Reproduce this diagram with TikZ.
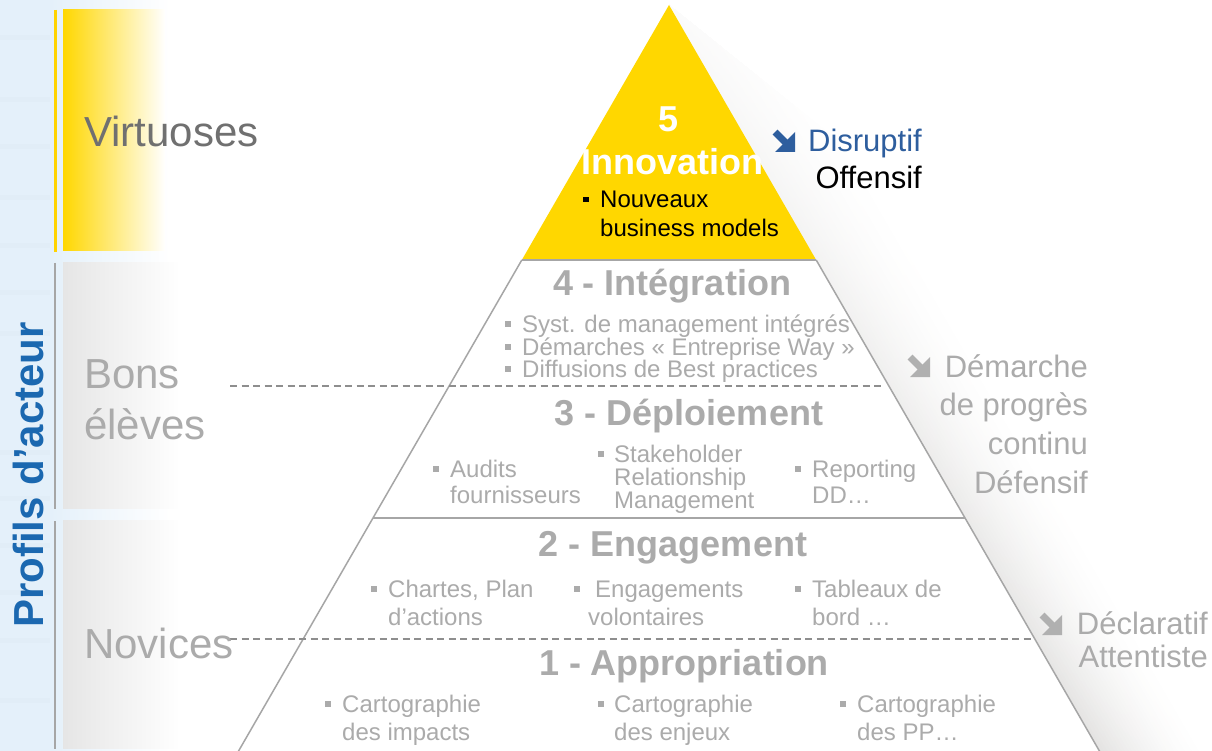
\documentclass[tikz,border=0pt]{standalone}
\usepackage{fontspec}
\setmainfont{Liberation Sans}
\definecolor{pyyellow}{HTML}{FFD700}
\definecolor{tgray}{HTML}{ABABAB}
\definecolor{lgray}{HTML}{A6A6A6}
\definecolor{dgray}{HTML}{8E8E8E}
\definecolor{vgray}{HTML}{707070}
\definecolor{dblue}{HTML}{2E5E9E}
\definecolor{pblue}{HTML}{1B68B0}
\definecolor{bgblue}{HTML}{E4F0FA}
\definecolor{agray}{HTML}{B0B0B0}
\definecolor{shcol}{HTML}{5A554E}
\newcommand{\fsz}[1]{\fontsize{#1}{#1}\selectfont}
\newcommand{\mybul}[3][tgray]{\fill[#1] ({#2-2.75},{#3-11}) rectangle ++(5.5,5.5);}
\tikzset{
  sidelbl/.style={font=\fsz{42}, inner sep=0pt, anchor=base west, text=tgray},
  ttl/.style={font=\fsz{36}\bfseries, inner sep=0pt, anchor=base, text=tgray},
  itm/.style={font=\fsz{24}, inner sep=0pt, anchor=base west, text=tgray},
  rlab/.style={font=\fsz{31}, inner sep=0pt, anchor=base east, text=tgray},
  pedge/.style={draw=lgray, line width=1.5pt},
  dline/.style={draw=dgray, line width=1.3pt, dash pattern=on 7pt off 4.5pt},
  searr/.pic={
    \fill (0,0) -- (0,-20) -- (-20,0) -- cycle;
    \draw[line width=7pt] (-20,-20) -- (-8,-8);
  }
}
\begin{document}
\begin{tikzpicture}[x=1pt,y=-1pt]
\useasboundingbox (0,0) rectangle (1212,751);
\fill[white] (0,0) rectangle (1212,751);
% left background
\fill[bgblue] (0,0) rectangle (50,751);
\shade[left color=bgblue, right color=white] (50,0) rectangle (170,751);
\foreach \yy in {38,100,147,198,246,292,333,452,498,545,592,640,700}{
  \draw[draw=bgblue!80!black, line width=5pt, opacity=0.06] (0,\yy) -- (50,\yy);
}
% profile boxes
\shade[left color=pyyellow, middle color=pyyellow!40, right color=white] (63,10) rectangle (165,251);
\shade[left color=black!10, right color=white] (63,263) rectangle (180,508);
\shade[left color=black!10, right color=white] (63,520) rectangle (180,748);
\draw[draw=pyyellow!95!orange, line width=3pt] (55,10) -- (55,252);
\draw[draw=lgray, line width=2.5pt] (55,263) -- (55,509);
\draw[draw=lgray, line width=2.5pt] (55,521) -- (55,749);
% shadow right of pyramid (outer, lightest first)
\foreach \k in {30,29,...,1}{
  \pgfmathsetmacro\w{3.5*\k}
  \pgfmathsetmacro\p{16*(1-(\k-1)/30)^1.6}
  \pgfmathsetmacro\pa{0.15*\p}
  \shade[top color=shcol!\pa!white, middle color=shcol!\p!white, bottom color=shcol!\p!white]
    (669,5) -- ({669+0.57735*1.5*\w+\w},{5+1.5*\w}) -- ({1100+\w},751) -- (1100,751) -- cycle;
}
% pyramid
\fill[white] (521.8,260) -- (816.2,260) -- (1100,751) -- (238,751) -- cycle;
\fill[pyyellow] (669,5) -- (816.2,260) -- (521.8,260) -- cycle;
\draw[pedge] (521.8,260) -- (816.2,260);
\draw[pedge] (521.8,260) -- (238,752);
\draw[pedge] (816.2,260) -- (1100,752);
\draw[pedge] (373,518) -- (965,518);
\draw[dline] (230,386) -- (885,386);
\draw[dline] (230,639) -- (1033,639);
% side labels
\node[sidelbl, text=vgray] (virt) at (84,147) {Virtuoses};
\node[sidelbl] (bons) at (84,388) {Bons};
\node[sidelbl] (eleves) at (84,439) {élèves};
\node[sidelbl] (nov) at (84,658) {Novices};
\node[font=\fsz{42}\bfseries, text=pblue, rotate=90, inner sep=0pt] (prof) at (28,475) {Profils d’acteur};
% level 5
\node[ttl, text=white] (five) at (669,132) {5};
\node[ttl, text=white] (innov) at (672,175) {Innovation};
\mybul[black]{586}{208}
\node[itm, text=black] (nouv1) at (600,208) {Nouveaux};
\node[itm, text=black] (nouv2) at (600,237) {business models};
% level 4
\node[ttl] (t4) at (672,295) {4 - Intégration};
\mybul{508}{332}\node[itm] (i4a) at (522,332) {Syst. de management intégrés};
\mybul{508}{355}\node[itm] (i4b) at (522,355) {Démarches « Entreprise Way »};
\mybul{508}{377}\node[itm] (i4c) at (522,377) {Diffusions de Best practices};
% level 3
\node[ttl] (t3) at (689,425) {3 - Déploiement};
\mybul{436}{477}\node[itm] (i3a1) at (450,477) {Audits};
\node[itm] (i3a2) at (450,503) {fournisseurs};
\mybul{601}{462}\node[itm] (i3b1) at (614,462) {Stakeholder};
\node[itm] (i3b2) at (614,485) {Relationship};
\node[itm] (i3b3) at (614,508) {Management};
\mybul{798}{477}\node[itm] (i3c1) at (812,477) {Reporting};
\node[itm] (i3c2) at (812,503) {DD…};
% level 2
\node[ttl] (t2) at (673,556) {2 - Engagement};
\mybul{374}{597}\node[itm] (i2a1) at (388,597) {Chartes, Plan};
\node[itm] (i2a2) at (388,625) {d’actions};
\mybul{577}{597}\node[itm] (i2b1) at (595,597) {Engagements};
\node[itm] (i2b2) at (588,625) {volontaires};
\mybul{798}{597}\node[itm] (i2c1) at (812,597) {Tableaux de};
\node[itm] (i2c2) at (812,625) {bord …};
% level 1
\node[ttl] (t1) at (684,675) {1 - Appropriation};
\mybul{328}{712}\node[itm] (i1a1) at (342,712) {Cartographie};
\node[itm] (i1a2) at (342,740) {des impacts};
\mybul{601}{712}\node[itm] (i1b1) at (614,712) {Cartographie};
\node[itm] (i1b2) at (614,740) {des enjeux};
\mybul{843}{712}\node[itm] (i1c1) at (857,712) {Cartographie};
\node[itm] (i1c2) at (857,740) {des PP…};
% right labels
\pic[color=dblue] at (795,152) {searr};
\node[rlab, text=dblue] (disr) at (922,152) {Disruptif};
\node[rlab, text=black] (off) at (922,189) {Offensif};
\pic[color=agray] at (930,377) {searr};
\node[rlab] (dem1) at (1088,377) {Démarche};
\node[rlab] (dem2) at (1088,415) {de progrès};
\node[rlab] (dem3) at (1088,454) {continu};
\node[rlab] (dem4) at (1088,493) {Défensif};
\pic[color=agray] at (1062,635) {searr};
\node[rlab] (decl) at (1208,634) {Déclaratif};
\node[rlab] (att) at (1208,667) {Attentiste};
\end{tikzpicture}
\end{document}
